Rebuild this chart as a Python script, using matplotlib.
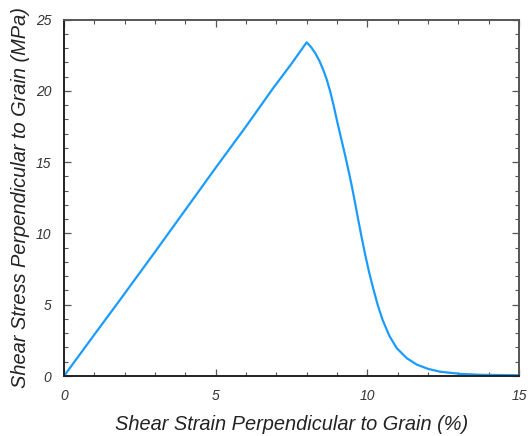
import numpy as np
from matplotlib import pyplot as plt
from matplotlib.ticker import MultipleLocator

# shear stress-strain curve, perpendicular to grain
strain = [0.0, 0.5, 1.0, 1.85, 3.0, 4.0, 5.0, 6.0, 6.9, 7.5, 8.0,
          8.15, 8.28, 8.42, 8.55, 8.66, 8.77, 8.88, 8.99, 9.12, 9.26,
          9.38, 9.49, 9.6, 9.7, 9.81, 9.92, 10.05, 10.18, 10.34, 10.5,
          10.73, 10.97, 11.3, 11.63, 12.0, 12.4, 13.06, 13.8, 15.0]
stress = [0.0, 1.45, 2.9, 5.35, 8.7, 11.65, 14.6, 17.5, 20.2, 21.9, 23.4,
          23.05, 22.65, 22.1, 21.45, 20.8, 20.0, 19.05, 18.0, 16.8, 15.55,
          14.4, 13.3, 12.1, 10.95, 9.75, 8.6, 7.35, 6.25, 5.0, 3.95,
          2.8, 1.95, 1.25, 0.8, 0.5, 0.3, 0.15, 0.08, 0.05]

plt.rcParams['font.family'] = ['Liberation Sans', 'DejaVu Sans']

fig = plt.figure(figsize=(5.28, 4.36), dpi=100)
ax = fig.add_axes([64 / 528, 1 - 376 / 436, 455 / 528, 356.5 / 436])

ax.plot(strain, stress, color='#1b9cfc', lw=1.6, solid_joinstyle='round')

ax.set_xlim(0, 15)
ax.set_ylim(0, 25)
ax.xaxis.set_major_locator(MultipleLocator(5))
ax.xaxis.set_minor_locator(MultipleLocator(1))
ax.yaxis.set_major_locator(MultipleLocator(5))
ax.yaxis.set_minor_locator(MultipleLocator(1))
ax.tick_params(which='both', direction='in', top=True, right=True,
               color='#555555', labelsize=10, labelcolor='#333333')
ax.tick_params(which='major', length=5, width=0.9, pad=9)
ax.tick_params(which='minor', length=3, width=0.8)
for lbl in ax.get_xticklabels() + ax.get_yticklabels():
    lbl.set_style('italic')

for side in ['left', 'bottom', 'top', 'right']:
    ax.spines[side].set_linewidth(1.4)
    ax.spines[side].set_color('#222222')
ax.spines['top'].set_color('#555555')
ax.spines['right'].set_color('#555555')

ax.set_xlabel('Shear Strain Perpendicular to Grain (%)', fontsize=14.4,
              style='italic', color='#222222', labelpad=9)
ax.set_ylabel('Shear Stress Perpendicular to Grain (MPa)', fontsize=14.4,
              style='italic', color='#222222', labelpad=4)

fig.savefig('out.png', dpi=100)
